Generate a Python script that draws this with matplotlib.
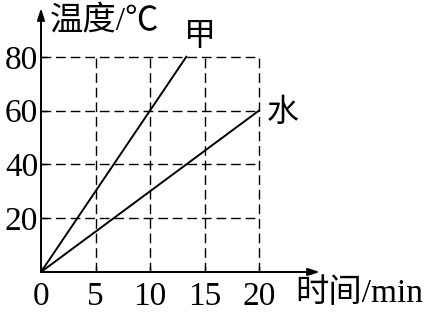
import matplotlib
matplotlib.use("Agg")
import matplotlib.pyplot as plt

# Data
x_ticks = [0, 5, 10, 15, 20]
y_ticks = [20, 40, 60, 80]
jia_time = [0, 13.33]
jia_temp = [0, 80]
water_time = [0, 20]
water_temp = [0, 60]

plt.rcParams['font.family'] = ['Liberation Serif', 'Noto Sans CJK SC']

W, H = 428, 312
fig = plt.figure(figsize=(W / 100, H / 100), dpi=100)
ax = fig.add_axes([41 / W, 40 / H, (320 - 41) / W, (272 - 8) / H])
ax.set_xlim(0, (320 - 41) / 10.9)
ax.set_ylim(0, (272 - 8) / 2.69)
for s in ax.spines.values():
    s.set_visible(False)

# dashed grid
dash = (0, (7, 3.5))
for xv in x_ticks[1:]:
    ax.plot([xv, xv], [0, 80], ls=dash, color='black', lw=1)
for yv in y_ticks:
    ax.plot([0, 20], [yv, yv], ls=dash, color='black', lw=1)

ax.plot(jia_time, jia_temp, color='black', lw=1.4)
ax.plot(water_time, water_temp, color='black', lw=1.4)

# axes arrows
ax.annotate('', xy=(1, 0), xytext=(0, 0), xycoords='axes fraction',
            arrowprops=dict(arrowstyle='-|>,head_length=0.7,head_width=0.22', color='black', lw=1.4, shrinkA=0, shrinkB=0))
ax.annotate('', xy=(0, 1), xytext=(0, 0), xycoords='axes fraction',
            arrowprops=dict(arrowstyle='-|>,head_length=0.7,head_width=0.22', color='black', lw=1.4, shrinkA=0, shrinkB=0))

ax.set_xticks(x_ticks)
ax.set_xticklabels([str(v) for v in x_ticks])
ax.set_yticks(y_ticks)
ax.set_yticklabels([str(v) for v in y_ticks])
ax.tick_params(direction='in', length=4, width=1, labelsize=24)
ax.tick_params(axis='x', pad=7)
ax.tick_params(axis='y', pad=2)

ax.text(14.6, 87, '甲', fontsize=23, ha='center', va='center')
ax.text(22.2, 59, '水', fontsize=23, ha='center', va='center')
ax.text(0.03, 1.01, '温度/℃', transform=ax.transAxes, fontsize=24, ha='left', va='top')
ax.text(0.91, -0.08, '时间/min', transform=ax.transAxes, fontsize=24, ha='left', va='center')

fig.savefig('out.png', dpi=100)
